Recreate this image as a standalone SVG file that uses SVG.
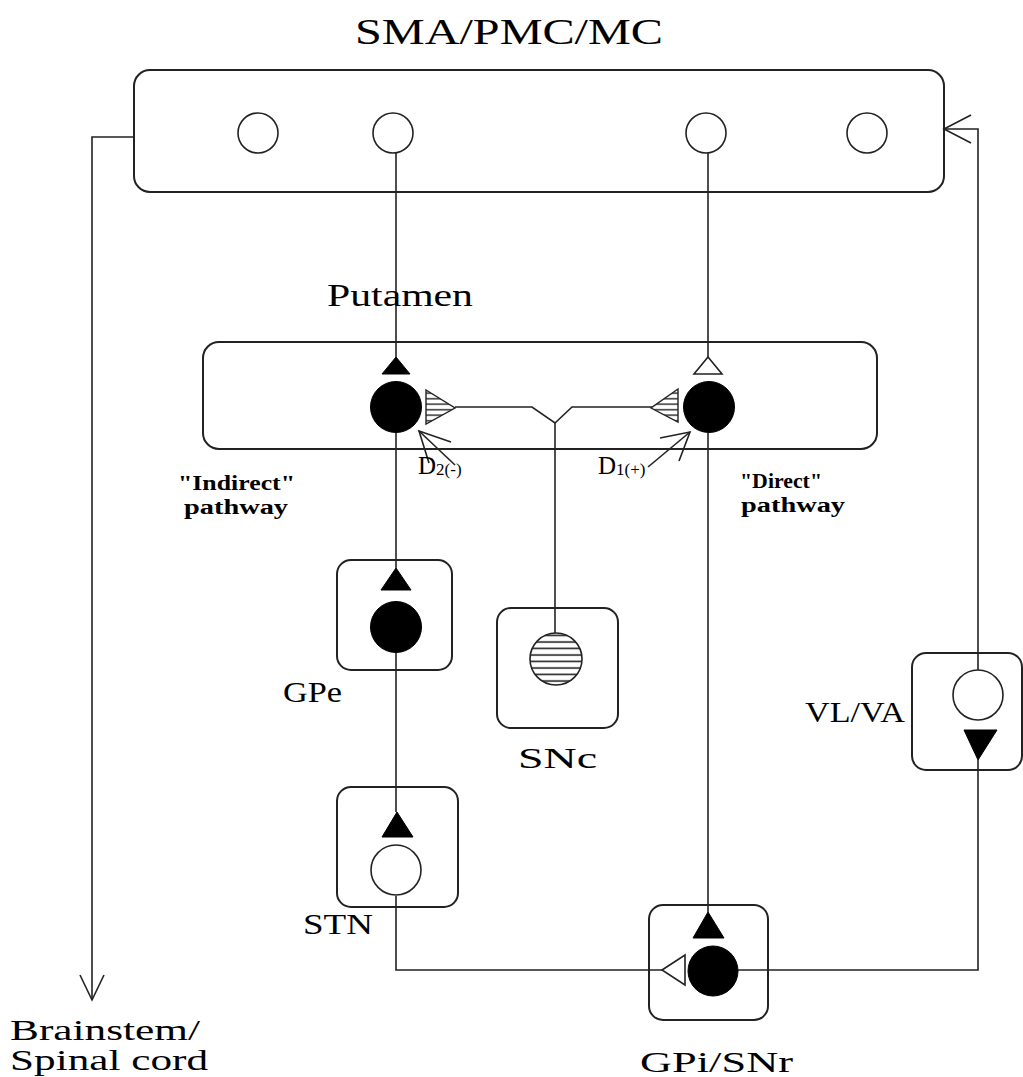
<svg xmlns="http://www.w3.org/2000/svg" width="1023" height="1077" viewBox="0 0 1023 1077">
<style>
.box{fill:none;stroke:#222;stroke-width:2}
.ln{fill:none;stroke:#222;stroke-width:1.6}
.open{fill:#fff;stroke:#222;stroke-width:1.6}
.solid{fill:#000;stroke:#000;stroke-width:1}
.t{font-family:"Liberation Serif","Times New Roman",serif;fill:#000}
</style>
<defs>
<pattern id="hatch" patternUnits="userSpaceOnUse" width="10" height="5.5">
<rect width="10" height="5.5" fill="#fff"/>
<line x1="0" y1="2.7" x2="10" y2="2.7" stroke="#222" stroke-width="1.4"/>
</pattern>
<pattern id="hatch2" patternUnits="userSpaceOnUse" width="10" height="6.5" y="2">
<rect width="10" height="6.5" fill="#fff"/>
<line x1="0" y1="3" x2="10" y2="3" stroke="#222" stroke-width="1.6"/>
</pattern>
</defs>
<rect width="1023" height="1077" fill="#fff"/>

<g id="connectors">
<polyline class="ln" points="134,137 92,137 92,1000"/>
<polyline class="ln" points="80,975 92,1000 104,975"/>
<polyline class="ln" points="944,129 978,129 978,670"/>
<polyline class="ln" points="971,115 944,129 971,143"/>
<line class="ln" x1="396" y1="153" x2="396" y2="358"/>
<line class="ln" x1="708" y1="153" x2="708" y2="358"/>
<line class="ln" x1="396" y1="433" x2="396" y2="568"/>
<line class="ln" x1="396" y1="653" x2="396" y2="812"/>
<polyline class="ln" points="396,896 396,970 662,970"/>
<line class="ln" x1="708" y1="433" x2="708" y2="912"/>
<polyline class="ln" points="738,970 978,970 978,760"/>
<polyline class="ln" points="455,407 532,407 555,423 572,407 652,407"/>
<line class="ln" x1="555" y1="423" x2="555" y2="633"/>
<line class="ln" x1="455" y1="465" x2="419" y2="431"/>
<polyline class="ln" points="451,442 419,431 429,463"/>
<line class="ln" x1="648" y1="467" x2="690" y2="432"/>
<polyline class="ln" points="660,438 690,432 679,461"/>
</g>

<g id="cortex">
<rect class="box" x="134" y="70" width="810" height="122" rx="16"/>
<circle class="open" cx="258" cy="133" r="20"/>
<circle class="open" cx="393" cy="133" r="20"/>
<circle class="open" cx="706" cy="133" r="20"/>
<circle class="open" cx="867" cy="133" r="20"/>
<text class="t" x="355" y="44" font-size="36" textLength="308" lengthAdjust="spacingAndGlyphs">SMA/PMC/MC</text>
</g>

<g id="putamen">
<rect class="box" x="203" y="342" width="674" height="107" rx="16"/>
<text class="t" x="327" y="306" font-size="31" textLength="146" lengthAdjust="spacingAndGlyphs">Putamen</text>
<polygon class="solid" points="396,357 410,374 382,374"/>
<circle class="solid" cx="396" cy="407" r="25.5"/>
<polygon points="426,390 455,408 426,424" fill="url(#hatch)" stroke="#222" stroke-width="1.4"/>
<polygon class="open" points="708,357 722,374 694,374"/>
<circle class="solid" cx="709" cy="407" r="25.5"/>
<polygon points="678,389 651,408 678,422" fill="url(#hatch)" stroke="#222" stroke-width="1.4"/>
</g>

<g id="labels">
<text class="t" x="178" y="490" font-size="20" font-weight="bold" textLength="117" lengthAdjust="spacingAndGlyphs">"Indirect"</text>
<text class="t" x="184" y="514" font-size="20" font-weight="bold" textLength="104" lengthAdjust="spacingAndGlyphs">pathway</text>
<text class="t" x="740" y="488" font-size="20" font-weight="bold" textLength="82" lengthAdjust="spacingAndGlyphs">"Direct"</text>
<text class="t" x="741" y="512" font-size="20" font-weight="bold" textLength="104" lengthAdjust="spacingAndGlyphs">pathway</text>
<text class="t" x="418" y="474" font-size="25">D<tspan font-size="17" dy="1">2(-)</tspan></text>
<text class="t" x="598" y="474" font-size="25">D<tspan font-size="17" dy="1">1(+)</tspan></text>
</g>

<g id="gpe">
<rect class="box" x="337" y="560" width="115" height="110" rx="14"/>
<polygon class="solid" points="396,568 411,590 381,590"/>
<circle class="solid" cx="396" cy="627" r="25.5"/>
<text class="t" x="283" y="702" font-size="30" textLength="59" lengthAdjust="spacingAndGlyphs">GPe</text>
</g>

<g id="snc">
<rect class="box" x="497" y="608" width="121" height="120" rx="14"/>
<circle cx="556" cy="659" r="26" fill="url(#hatch2)" stroke="#222" stroke-width="1.6"/>
<text class="t" x="518" y="768" font-size="30" textLength="79" lengthAdjust="spacingAndGlyphs">SNc</text>
</g>

<g id="vlva">
<rect class="box" x="912" y="653" width="110" height="117" rx="14"/>
<circle class="open" cx="978" cy="695" r="25"/>
<polygon class="solid" points="964,730 997,730 978,760"/>
<text class="t" x="805" y="722" font-size="30" textLength="100" lengthAdjust="spacingAndGlyphs">VL/VA</text>
</g>

<g id="stn">
<rect class="box" x="337" y="787" width="121" height="120" rx="14"/>
<polygon class="solid" points="397,812 413,837 382,837"/>
<circle class="open" cx="396" cy="870" r="25"/>
<text class="t" x="303" y="934" font-size="30" textLength="70" lengthAdjust="spacingAndGlyphs">STN</text>
</g>

<g id="gpi">
<rect class="box" x="649" y="905" width="119" height="115" rx="14"/>
<polygon class="solid" points="708,912 724,938 693,938"/>
<circle class="solid" cx="713" cy="971" r="25"/>
<polygon class="open" points="662,970 685,955 685,985"/>
<text class="t" x="640" y="1072" font-size="30" textLength="153" lengthAdjust="spacingAndGlyphs">GPi/SNr</text>
</g>

<g id="brainstem">
<text class="t" x="10" y="1040" font-size="30" textLength="190" lengthAdjust="spacingAndGlyphs">Brainstem/</text>
<text class="t" x="10" y="1070" font-size="30" textLength="198" lengthAdjust="spacingAndGlyphs">Spinal cord</text>
</g>
</svg>
